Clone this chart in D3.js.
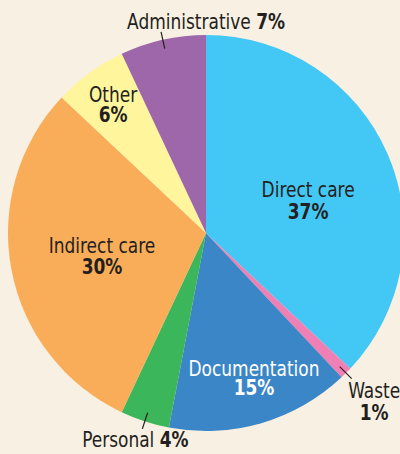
<!DOCTYPE html>
<html>
<head>
<meta charset="utf-8">
<script src="https://cdn.jsdelivr.net/npm/d3@7"></script>
<style>
	html, body { margin: 0; padding: 0; background: #f8f0e2; }
	svg { display: block; }
	text { font-family: "Liberation Sans Narrow", "DejaVu Sans Condensed", sans-serif; font-size: 21px; fill: #231f20; }
	.pct { font-weight: bold; }
</style>
</head>
<body>
<svg width="400" height="454"></svg>
<script>
var categories = ["Direct care", "Waste", "Documentation", "Personal", "Indirect care", "Other", "Administrative"];
var shares = [37, 1, 15, 4, 30, 6, 7];
var colours = ["#43c7f4", "#ee80b5", "#3b86c6", "#3cb65a", "#f9ad59", "#fff59d", "#9d67a9"];

var width = 400, height = 454;
var cx = 206, cy = 233, radius = 198;
var squeeze = 0.9;

var svg = d3.select("svg");
svg.append("rect").attr("width", width).attr("height", height).attr("fill", "#f8f0e2");

var g = svg.append("g").attr("transform", "translate(" + cx + "," + cy + ")");

var data = categories.map(function(c, i) { return { name: c, value: shares[i], colour: colours[i] }; });

var pie = d3.pie().sort(null).value(function(d) { return d.value; });
var arcs = pie(data);

var arc = d3.arc().innerRadius(0).outerRadius(radius);

g.selectAll("path.slice")
	.data(arcs)
	.enter().append("path")
	.attr("class", "slice")
	.attr("d", arc)
	.attr("fill", function(d) { return d.data.colour; });

// label placement: two-line labels sit at a fraction of the radius along the mid angle,
// the outside ones get a short leader line
var layout = {
	"Direct care":    { r: 0.54, dx: 4, dy: 6, lh: 22 },
	"Indirect care":  { r: 0.54, dx: 1, dy: 0, lh: 21 },
	"Documentation":  { r: 0.76, dx: 6, dy: -2, lh: 20, white: true },
	"Other":          { r: 0.79, dx: -1, dy: -4, lh: 20 },
	"Waste":          { r: 1.13, dx: 10, dy: 7, lh: 22, leader: true },
	"Personal":       { r: 1.04, dx: -7, dy: 18, oneLine: true, leader: true },
	"Administrative": { r: 1.04, dx: 45, dy: -3, oneLine: true, leader: true }
};

function point(a, r) {
	var m = (a.startAngle + a.endAngle) / 2;
	return [Math.sin(m) * r, -Math.cos(m) * r];
}

arcs.forEach(function(a) {
	var L = layout[a.data.name];
	var fill = L.white ? "#ffffff" : "#231f20";

	if (L.leader) {
		var p0 = point(a, radius - 9);
		var p1 = point(a, radius + 8);
		g.append("line")
			.attr("x1", p0[0]).attr("y1", p0[1])
			.attr("x2", p1[0]).attr("y2", p1[1])
			.attr("stroke", "#231f20").attr("stroke-width", 1.2);
	}

	var p = point(a, radius * L.r);
	var t = g.append("text")
		.attr("text-anchor", "middle")
		.attr("transform", "translate(" + (p[0] + L.dx) + "," + (p[1] + L.dy) + ") scale(" + squeeze + ",1)");

	if (L.oneLine) {
		t.append("tspan").text(a.data.name + " ");
		t.append("tspan").attr("class", "pct").text(a.data.value + "%");
		return;
	}

	t.append("tspan").attr("x", 0).attr("y", 0).style("fill", fill).text(a.data.name);
	t.append("tspan").attr("class", "pct").attr("x", 0).attr("y", L.lh).style("fill", fill).text(a.data.value + "%");
});
</script>
</body>
</html>
